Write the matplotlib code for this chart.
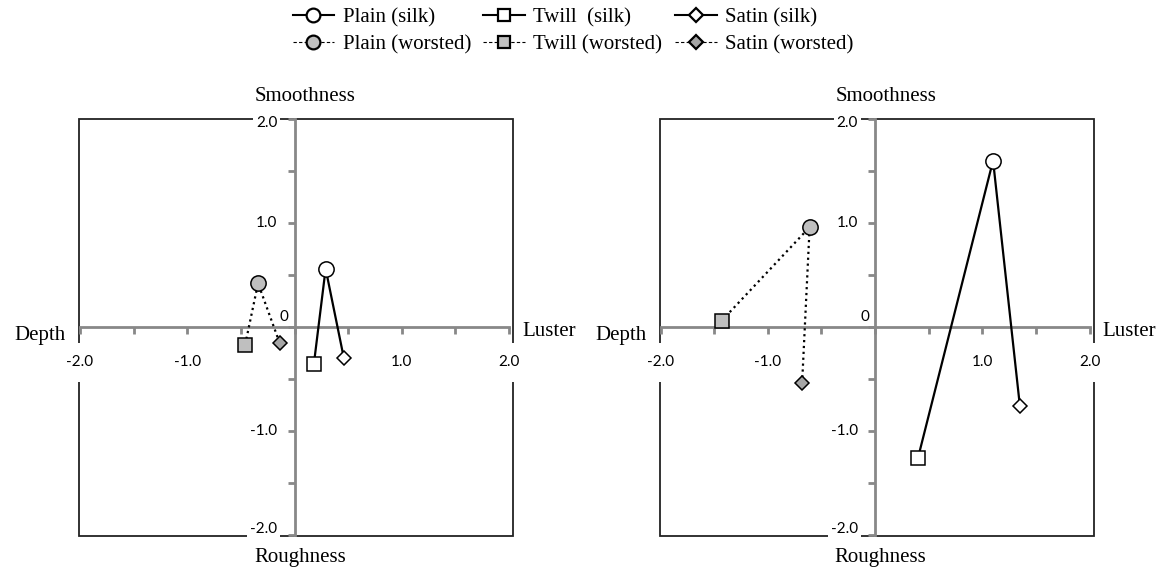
import numpy as np
import matplotlib
matplotlib.use("Agg")
import matplotlib.pyplot as plt
from matplotlib.lines import Line2D
from matplotlib.patches import Rectangle

# weave order: Plain, Twill, Satin
weaves = ['Plain', 'Twill', 'Satin']

# left chart (Luster / Smoothness)
left_silk_x = [0.29, 0.18, 0.46]
left_silk_y = [0.56, -0.36, -0.30]
left_worsted_x = [-0.34, -0.46, -0.14]
left_worsted_y = [0.42, -0.17, -0.15]

# right chart
right_silk_x = [1.10, 0.40, 1.35]
right_silk_y = [1.60, -1.26, -0.76]
right_worsted_x = [-0.61, -1.43, -0.68]
right_worsted_y = [0.96, 0.06, -0.54]

xtick_vals = [-2.0, -1.0, 1.0, 2.0]
ytick_vals = [2.0, 1.0, 0.0, -1.0, -2.0]
ytick_text = ['2.0', '1.0', '0', '-1.0', '-2.0']

serif = 'Liberation Serif'
sans = 'Lato'
markers = ['o', 's', 'D']
msizes = [11, 10, 7.6]
worsted_fill = ['#bfbfbf', '#bfbfbf', '#a6a6a6']
order = [1, 0, 2]  # line goes Twill -> Plain -> Satin


def draw_panel(ax, sx, sy, wx, wy):
    ax.set_xlim(-2.009, 2.037)
    ax.set_ylim(-2.01, 2.0)
    for s in ['top', 'right']:
        ax.spines[s].set_visible(False)
    for s in ['left', 'bottom']:
        ax.spines[s].set_position('zero')
        ax.spines[s].set_color('#888888')
        ax.spines[s].set_linewidth(2.0)
        ax.spines[s].set_bounds(-2, 2)
    ax.set_xticks(np.arange(-2, 2.01, 0.5))
    ax.set_yticks(np.arange(-2, 2.01, 0.5))
    ax.set_xticklabels([])
    ax.set_yticklabels([])
    ax.tick_params(axis='both', direction='out', length=5, width=2, color='#888888')

    # outer black frame
    ax.add_patch(Rectangle((0, 0), 1, 1, transform=ax.transAxes, fill=False,
                           edgecolor='#222222', linewidth=1.3, zorder=1, clip_on=False))

    # tick labels drawn by hand (Excel style)
    for v in xtick_vals:
        pad = 9 if abs(v) == 2 else 1
        ax.text(v, -0.34, '%.1f' % v, ha='center', va='center', fontsize=11,
                family=sans, zorder=4,
                bbox=dict(facecolor='white', edgecolor='none', pad=pad))
    ylab_pos = [1.96, 1.0, 0.1, -1.0, -1.94]
    for v, t, yp in zip(ytick_vals, ytick_text, ylab_pos):
        xr = -0.055 if t == '0' else -0.16
        pad = 2 if abs(v) == 2 else 0.5
        ax.text(xr, yp, t, ha='right', va='center', fontsize=11, family=sans,
                zorder=4, bbox=dict(facecolor='white', edgecolor='none', pad=pad))

    ax.text(0.10, 2.22, 'Smoothness', ha='center', va='center', fontsize=15, family=serif)
    ax.text(0.05, -2.22, 'Roughness', ha='center', va='center', fontsize=15, family=serif)
    ax.text(-2.13, -0.08, 'Depth', ha='right', va='center', fontsize=15, family=serif)
    ax.text(2.12, -0.04, 'Luster', ha='left', va='center', fontsize=15, family=serif)

    # connecting lines
    ax.plot([sx[i] for i in order], [sy[i] for i in order], color='black',
            linewidth=1.6, zorder=5, clip_on=False)
    ax.plot([wx[i] for i in order], [wy[i] for i in order], color='black',
            linewidth=1.6, linestyle=':', zorder=5, clip_on=False)

    # markers
    for i in range(3):
        ax.plot(sx[i], sy[i], marker=markers[i], markersize=msizes[i],
                markerfacecolor='white', markeredgecolor='black',
                markeredgewidth=1.1, linestyle='none', zorder=6, clip_on=False)
        ax.plot(wx[i], wy[i], marker=markers[i], markersize=msizes[i],
                markerfacecolor=worsted_fill[i], markeredgecolor='black',
                markeredgewidth=1.1, linestyle='none', zorder=6, clip_on=False)


fig = plt.figure(figsize=(11.74, 5.77), dpi=100)
ax1 = fig.add_axes([0.0673, 0.0711, 0.3697, 0.7227])
ax2 = fig.add_axes([0.5618, 0.0711, 0.3697, 0.7227])
draw_panel(ax1, left_silk_x, left_silk_y, left_worsted_x, left_worsted_y)
draw_panel(ax2, right_silk_x, right_silk_y, right_worsted_x, right_worsted_y)

# legend (column-wise order for ncol=3)
handles = []
labels = []
silk_names = ['Plain (silk)', 'Twill  (silk)', 'Satin (silk)']
worsted_names = ['Plain (worsted)', 'Twill (worsted)', 'Satin (worsted)']
for i in range(3):
    handles.append(Line2D([], [], color='black', linewidth=1.5, marker=markers[i],
                          markersize=msizes[i] * 0.9, markerfacecolor='white',
                          markeredgecolor='black', markeredgewidth=1.6))
    labels.append(silk_names[i])
    handles.append(Line2D([], [], color='black', linewidth=0.8, linestyle=(0, (3, 2)),
                          marker=markers[i], markersize=msizes[i] * 0.9,
                          markerfacecolor=worsted_fill[i], markeredgecolor='black',
                          markeredgewidth=1.6))
    labels.append(worsted_names[i])

fig.legend(handles, labels, ncol=3, loc='upper center', bbox_to_anchor=(0.488, 1.012),
           frameon=False, prop={'family': serif, 'size': 15}, handlelength=2.0,
           handletextpad=0.4, columnspacing=0.6, labelspacing=0.35, borderpad=0.2)

fig.savefig('out.png', dpi=100)
